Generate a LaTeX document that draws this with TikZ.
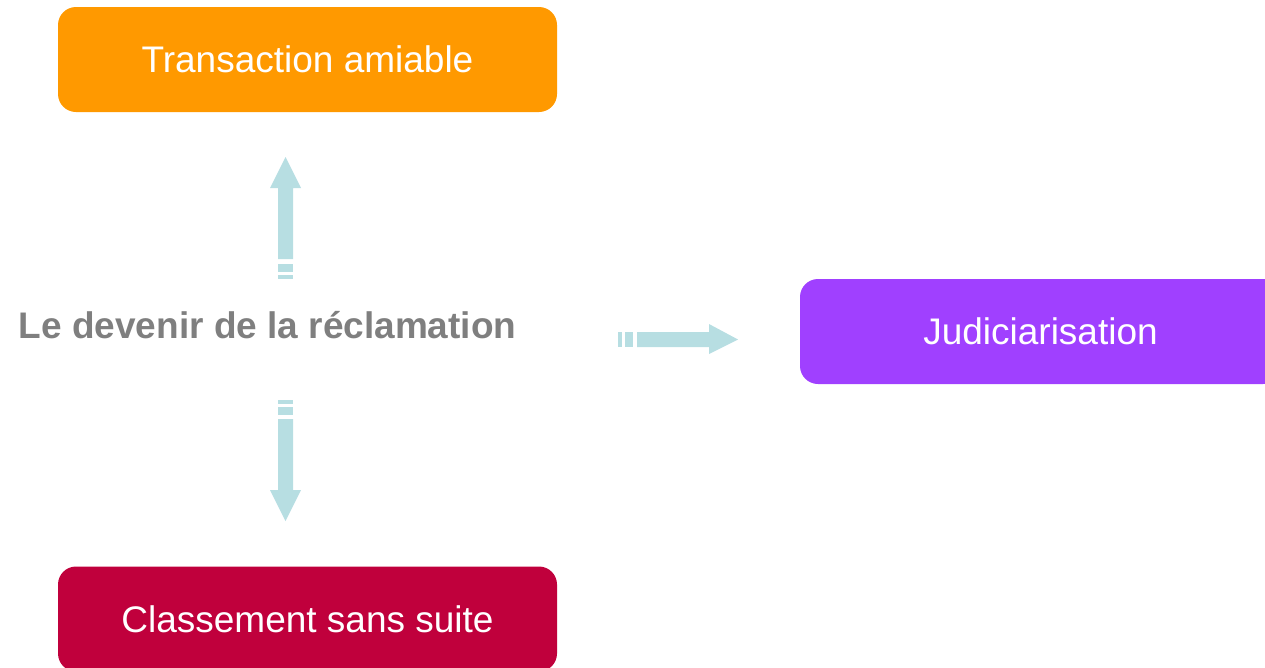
\documentclass[tikz,border=0pt]{standalone}
\usepackage{fontspec}
\setmainfont{Liberation Sans}
\definecolor{orangebox}{HTML}{FF9900}
\definecolor{purplebox}{HTML}{A040FF}
\definecolor{redbox}{HTML}{C0003C}
\definecolor{flow}{HTML}{B7DEE2}
\definecolor{labelgray}{HTML}{7F7F7F}
\tikzset{
  outcome/.style={rounded corners=18pt, minimum width=499pt, minimum height=105pt,
    inner sep=0pt, text=white, font=\fontsize{37}{44}\selectfont,
    text height=26.5pt, text depth=0pt},
  flowfill/.style={fill=flow, draw=none},
}
\begin{document}
\begin{tikzpicture}[x=1pt,y=-1pt]
\useasboundingbox (0,0) rectangle (1265,667);
\clip (0,0) rectangle (1265,667);

% outcome boxes
\node[outcome, fill=orangebox] (amiable) at (307.5,59.5) {Transaction amiable};
\node[outcome, fill=redbox] (classement) at (307.5,619) {Classement sans suite};
\node[outcome, fill=purplebox, minimum width=481pt] (judic) at (1040.5,331.5) {Judiciarisation};

% central label
\node[font=\bfseries\fontsize{37}{44}\selectfont, text=labelgray, inner sep=0pt,
      text height=26.5pt, text depth=0pt] (devenir) at (267.5,325.5) {Le devenir de la réclamation};

% upward block arrow with striped tail
\fill[flowfill] (278,259) -- (278,188) -- (270,188) -- (285.5,157) -- (301,188) -- (293,188) -- (293,259) -- cycle;
\fill[flowfill] (278,264) rectangle (293,272);
\fill[flowfill] (278,275) rectangle (293,279);

% downward block arrow with striped tail
\fill[flowfill] (278,400) rectangle (293,404);
\fill[flowfill] (278,407) rectangle (293,415);
\fill[flowfill] (278,419) -- (278,490) -- (270,490) -- (285.5,521) -- (301,490) -- (293,490) -- (293,419) -- cycle;

% rightward block arrow with striped tail
\fill[flowfill] (618,332) rectangle (622,347);
\fill[flowfill] (625,332) rectangle (633,347);
\fill[flowfill] (637,332) -- (709,332) -- (709,324) -- (738,339.5) -- (709,354) -- (709,347) -- (637,347) -- cycle;
\end{tikzpicture}
\end{document}
